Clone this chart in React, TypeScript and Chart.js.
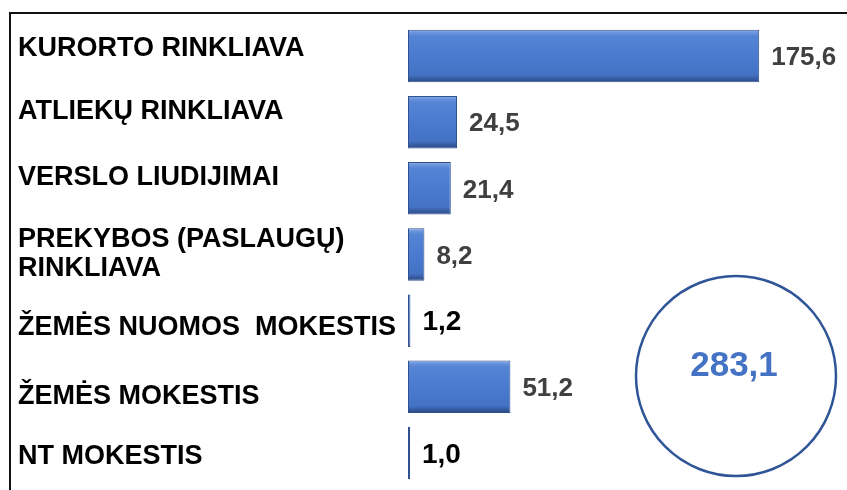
import { useEffect, useRef } from 'react';
import { Chart, registerables } from 'chart.js';

Chart.register(...registerables);

// ---- data ----
const categories: (string | string[])[] = [
  'KURORTO RINKLIAVA',
  'ATLIEKŲ RINKLIAVA',
  'VERSLO LIUDIJIMAI',
  ['PREKYBOS (PASLAUGŲ)', 'RINKLIAVA'],
  'ŽEMĖS NUOMOS  MOKESTIS',
  'ŽEMĖS MOKESTIS',
  'NT MOKESTIS',
];
const values: number[] = [175.6, 24.5, 21.4, 8.2, 1.2, 51.2, 1.0];

// ---- styling ----
const LABEL_FONT = '"Liberation Sans", Arial, sans-serif';
const LABEL_SIZE = 27;
// vertical nudge of each category label relative to its bar centre (px)
const LABEL_NUDGE = [-7.5, -10.5, -10.5, 0, 7, 9.5, 4];
const BAR_PCT = 0.794;

const fmt = (v: number) => v.toFixed(1).replace('.', ',');

const tickLabels = categories.map((c, i) => {
  if (Array.isArray(c)) return c;
  const n = LABEL_NUDGE[i];
  if (n < 0) return [c, ''];
  if (n > 0) return ['', c];
  return c;
});

const framePlugin = {
  id: 'frame',
  beforeDraw(chart: any) {
    const ctx = chart.ctx;
    ctx.save();
    ctx.strokeStyle = '#111';
    ctx.lineWidth = 2;
    ctx.beginPath();
    ctx.moveTo(10, 490);
    ctx.lineTo(10, 13);
    ctx.lineTo(847, 13);
    ctx.stroke();
    ctx.restore();
  },
};

const valueLabelPlugin = {
  id: 'valueLabels',
  afterDatasetsDraw(chart: any) {
    const ctx = chart.ctx;
    const meta = chart.getDatasetMeta(0);
    ctx.save();
    ctx.textAlign = 'left';
    ctx.textBaseline = 'middle';
    meta.data.forEach((el: any, i: number) => {
      const v = values[i];
      const small = v < 5;
      ctx.font = `bold ${small ? 28 : 26}px ${LABEL_FONT}`;
      ctx.fillStyle = small ? '#000000' : '#404040';
      ctx.fillText(fmt(v), el.x + 12, el.y + 2);
    });
    ctx.restore();
  },
};

const totalPlugin = {
  id: 'total',
  afterDraw(chart: any) {
    const ctx = chart.ctx;
    const total = values.reduce((a, b) => a + b, 0);
    ctx.save();
    ctx.strokeStyle = '#2F5597';
    ctx.lineWidth = 2.5;
    ctx.beginPath();
    ctx.arc(736, 376, 100, 0, Math.PI * 2);
    ctx.stroke();
    ctx.fillStyle = '#4472C4';
    ctx.font = `bold 35px ${LABEL_FONT}`;
    ctx.textAlign = 'center';
    ctx.textBaseline = 'middle';
    ctx.fillText(fmt(total), 734, 366);
    ctx.restore();
  },
};

function barFill(c: any) {
  const chart = c.chart;
  const area = chart.chartArea;
  const y = chart.scales && chart.scales.y;
  if (!area || !y || c.dataIndex === undefined) return '#4A7BD0';
  const center = y.getPixelForValue(c.dataIndex);
  const half = ((area.bottom - area.top) / categories.length) * BAR_PCT / 2;
  const g = chart.ctx.createLinearGradient(0, center - half, 0, center + half);
  g.addColorStop(0, '#8FB0E6');
  g.addColorStop(0.05, '#6C96DE');
  g.addColorStop(0.12, '#5584D4');
  g.addColorStop(0.5, '#4A7BD0');
  g.addColorStop(0.86, '#4472C4');
  g.addColorStop(0.94, '#34599E');
  g.addColorStop(1, '#2A4780');
  return g;
}

export default function App() {
  const ref = useRef<HTMLCanvasElement | null>(null);

  useEffect(() => {
    if (!ref.current) return;
    const chart = new Chart(ref.current, {
      type: 'bar',
      data: {
        labels: tickLabels as any,
        datasets: [
          {
            data: values,
            backgroundColor: barFill as any,
            borderColor: '#2F528F',
            borderWidth: 1,
            borderSkipped: false,
            barPercentage: BAR_PCT,
            categoryPercentage: 1,
          },
        ],
      },
      options: {
        indexAxis: 'y',
        animation: false,
        responsive: false,
        maintainAspectRatio: false,
        events: [],
        layout: { padding: { left: 18, top: 23, bottom: 4, right: 39 } },
        plugins: { legend: { display: false }, tooltip: { enabled: false } },
        scales: {
          x: { display: false, min: 0, max: 200 },
          y: {
            grid: { display: false },
            border: { display: false },
            afterFit: (scale: any) => {
              scale.width = 390;
              scale.paddingTop = 0;
              scale.paddingBottom = 0;
            },
            ticks: {
              crossAlign: 'far',
              padding: 0,
              color: '#000000',
              autoSkip: false,
              font: (ctx: any) => {
                const i = ctx.index;
                const multi = Array.isArray(categories[i]);
                const n = Math.abs(LABEL_NUDGE[i] || 0);
                const lh = multi ? '29px' : n > 0 ? `${n * 2}px` : '1.2';
                return { family: LABEL_FONT, size: LABEL_SIZE, weight: 'bold', lineHeight: lh };
              },
            },
          },
        },
      },
      plugins: [framePlugin, valueLabelPlugin, totalPlugin],
    } as any);
    return () => chart.destroy();
  }, []);

  return (
    <div style={{ position: 'absolute', left: 0, top: 0, width: 847, height: 490, background: '#fff' }}>
      <canvas ref={ref} width={847} height={490} style={{ display: 'block', width: 847, height: 490 }} />
    </div>
  );
}
